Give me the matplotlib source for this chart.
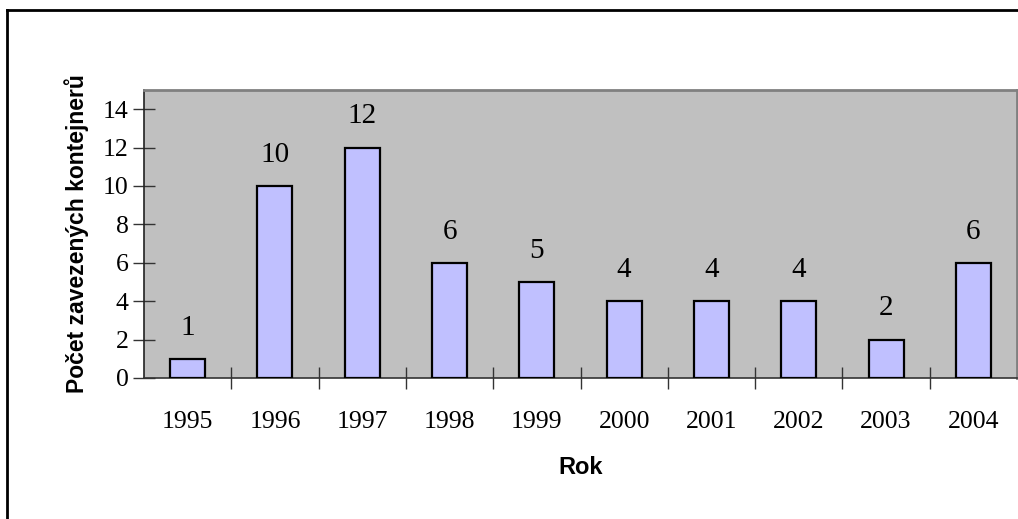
import matplotlib
matplotlib.use("Agg")
import matplotlib.pyplot as plt
from matplotlib.lines import Line2D
import numpy as np

years = ["1995", "1996", "1997", "1998", "1999", "2000", "2001", "2002", "2003", "2004"]
counts = [1, 10, 12, 6, 5, 4, 4, 4, 2, 6]
yticks = [0, 2, 4, 6, 8, 10, 12, 14]

W, H = 1018, 519
fig = plt.figure(figsize=(W / 100, H / 100), dpi=100)
fig.patch.set_facecolor("white")

ax = fig.add_axes([144 / W, 1 - 378 / H, (1017 - 144) / W, (378 - 90) / H])
ax.set_facecolor("#C0C0C0")

x = np.arange(len(years))
bars = ax.bar(x, counts, width=0.4, color="#C0C0FF", edgecolor="black", linewidth=1.6, zorder=3)
for xi, v in zip(x, counts):
    ax.text(xi, v + 0.95, str(v), ha="center", va="bottom",
            fontsize=21, family="Liberation Serif", color="black")

ax.set_xlim(-0.5, len(years) - 0.5)
ax.set_ylim(0, 15)
ax.set_yticks(yticks)
ax.set_yticklabels([str(t) for t in yticks], fontsize=18.5, family="Liberation Serif")
ax.set_xticks(x)
ax.set_xticklabels(years, fontsize=18.5, family="Liberation Serif")
ax.tick_params(axis="x", which="major", length=0, pad=24)
ax.set_xticks(np.arange(0.5, len(years) - 0.5, 1), minor=True)
ax.tick_params(axis="x", which="minor", direction="inout", length=16, width=1, color="#333333")
ax.tick_params(axis="y", which="major", direction="inout", length=16, width=1, color="#333333", pad=3)

for s in ["top", "right"]:
    ax.spines[s].set_color("#808080")
    ax.spines[s].set_linewidth(2)
ax.spines["left"].set_color("#222222")
ax.spines["bottom"].set_color("#333333")
ax.spines["left"].set_linewidth(1.2)
ax.spines["bottom"].set_linewidth(1.2)

ax.set_xlabel("Rok", fontsize=17, fontweight="bold", family="Liberation Sans", labelpad=16)
ax.set_ylabel("Počet zavezených kontejnerů", fontsize=16.5, fontweight="bold",
              family="Liberation Sans", labelpad=10)

# outer chart frame
fig.add_artist(Line2D([7 / W, 7 / W], [-0.1, 1 - 10 / H], transform=fig.transFigure,
                      color="black", linewidth=2))
fig.add_artist(Line2D([7 / W, 1.1], [1 - 10 / H, 1 - 10 / H], transform=fig.transFigure,
                      color="black", linewidth=2))

fig.savefig("out.png", dpi=100)
